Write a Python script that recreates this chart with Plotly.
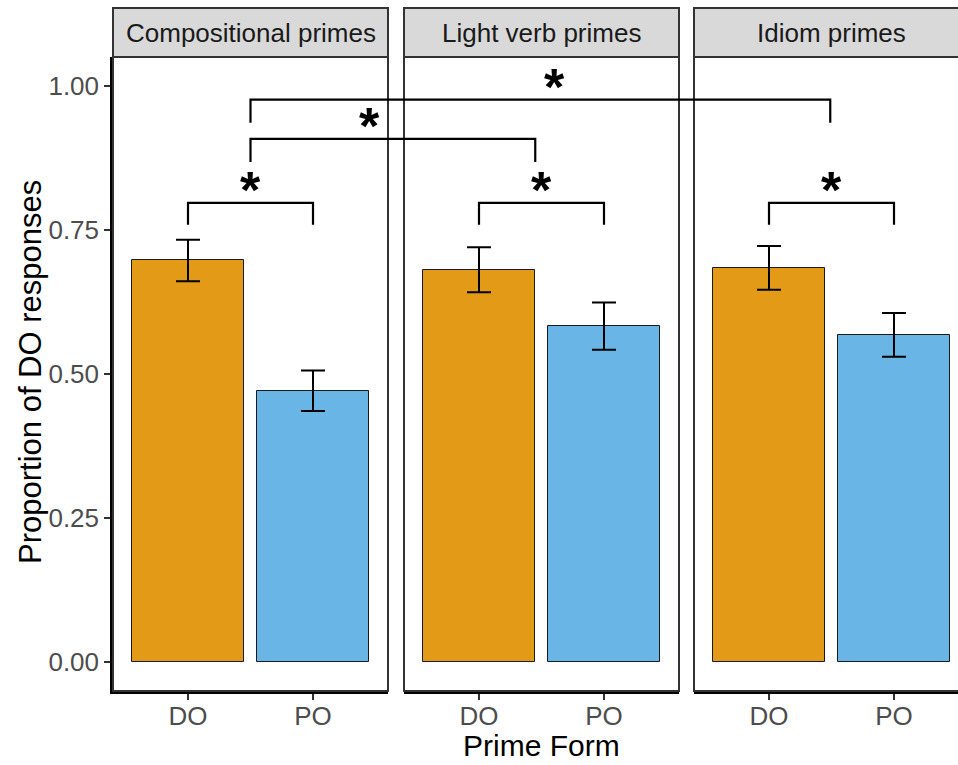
import plotly.graph_objects as go

# ---------------- data ----------------
panels = ["Compositional primes", "Light verb primes", "Idiom primes"]
categories = ["DO", "PO"]
do_vals = [0.697, 0.681, 0.684]
po_vals = [0.471, 0.583, 0.568]
do_err = [0.036, 0.039, 0.038]
po_err = [0.035, 0.041, 0.038]
y_ticks = [0.00, 0.25, 0.50, 0.75, 1.00]
y_ticklabels = ["0.00", "0.25", "0.50", "0.75", "1.00"]
# within-panel significance bracket (DO vs PO)
within_bracket = {"y": 0.797, "tick": 0.759}
# cross-panel brackets: (from panel, x), (to panel, x), y, tick bottom, star x (panel, x)
cross_brackets = [
    {"p0": 0, "x0": 0.5, "p1": 1, "x1": 0.45, "y": 0.908, "tick": 0.868, "sp": 0, "sx": 1.45},
    {"p0": 0, "x0": 0.5, "p1": 2, "x1": 0.49, "y": 0.976, "tick": 0.936, "sp": 1, "sx": 0.6},
]
star = "<b>*</b>"

# ---------------- layout geometry ----------------
W, H = 958, 765
ML, MR, MT, MB = 113, 0, 57, 74
PW = W - ML - MR
PH = H - MT - MB
panel_px = [(113, 388), (404, 679), (694, 969)]
px_per_unit = 125.0
yr = [-0.05, 1.05]
STAR_SIZE = 52
STAR_GAP = 20      # px from bracket line to star centre
STAR_GLYPH = 7     # px the glyph sits above the text-box middle

orange = "#E39A17"
blue = "#69B5E5"

fig = go.Figure()

xranges = []
domains = []
for i, (a, b) in enumerate(panel_px):
    d0 = (a - ML) / PW
    d1 = min((b - ML) / PW, 1.0)
    domains.append((d0, d1))
    right_px = min(b, W)
    xranges.append([-0.6, -0.6 + (right_px - a) / px_per_unit])


def paper_x(p, xv):
    a = panel_px[p][0]
    return (a + (xv - xranges[p][0]) * px_per_unit - ML) / PW


def paper_y(yv):
    return (yv - yr[0]) / (yr[1] - yr[0])


for i in range(3):
    xa = "x" if i == 0 else f"x{i+1}"
    ya = "y" if i == 0 else f"y{i+1}"
    fig.add_trace(go.Bar(
        x=[0, 1], y=[do_vals[i], po_vals[i]],
        width=0.9,
        marker=dict(color=[orange, blue], line=dict(color="#1a1a1a", width=1)),
        error_y=dict(type="data", array=[do_err[i], po_err[i]], color="black",
                     thickness=2, width=12),
        xaxis=xa, yaxis=ya, showlegend=False, hoverinfo="skip",
    ))

layout = dict(
    width=W, height=H,
    margin=dict(l=ML, r=MR, t=MT, b=MB, autoexpand=False),
    plot_bgcolor="white", paper_bgcolor="white",
    font=dict(family="Liberation Sans, Arial, sans-serif", color="#4D4D4D"),
    bargap=0,
)
for i in range(3):
    sfx = "" if i == 0 else str(i + 1)
    layout["xaxis" + sfx] = dict(
        domain=list(domains[i]), range=xranges[i], anchor="y" + sfx,
        tickmode="array", tickvals=[0, 1], ticktext=categories,
        showgrid=False, zeroline=False, showline=True, linecolor="black",
        linewidth=2.5, ticks="outside", ticklen=6, tickwidth=2, tickcolor="#333333",
        tickfont=dict(size=26, color="#4D4D4D"), fixedrange=True, automargin=False,
        ticklabelstandoff=-6,
    )
    layout["yaxis" + sfx] = dict(
        domain=[0, 1], range=yr, anchor="x" + sfx,
        tickmode="array", tickvals=y_ticks, ticktext=y_ticklabels,
        showticklabels=(i == 0), showgrid=False, zeroline=False,
        showline=(i == 0), linecolor="black", linewidth=2.5,
        ticks="outside" if i == 0 else "", ticklen=6, tickwidth=2, tickcolor="#333333",
        tickfont=dict(size=26, color="#4D4D4D"), fixedrange=True, automargin=False,
    )
fig.update_layout(**layout)

shapes = []
annotations = []
strip_top = 1 + (MT - 8) / PH
star_font = dict(size=STAR_SIZE, color="black", family="Liberation Sans")


def add_star(xp, yb):
    annotations.append(dict(text=star, xref="paper", yref="paper",
                            x=xp, y=yb, yshift=STAR_GAP - STAR_GLYPH,
                            showarrow=False, xanchor="center", yanchor="middle",
                            font=star_font))


for i in range(3):
    d0, d1 = domains[i]
    b_right = (panel_px[i][1] - ML) / PW
    shapes.append(dict(type="rect", xref="paper", yref="paper", x0=d0, x1=b_right,
                       y0=0, y1=1, line=dict(color="#333333", width=2), layer="above"))
    shapes.append(dict(type="rect", xref="paper", yref="paper", x0=d0, x1=b_right,
                       y0=1, y1=strip_top, fillcolor="#D9D9D9",
                       line=dict(color="#333333", width=2), layer="above"))
    annotations.append(dict(text=panels[i], xref="paper", yref="paper",
                            x=(d0 + b_right) / 2, y=(1 + strip_top) / 2,
                            showarrow=False, xanchor="center", yanchor="middle",
                            font=dict(size=26, color="#1A1A1A")))
    x0 = paper_x(i, 0)
    x1 = paper_x(i, 1)
    yb = paper_y(within_bracket["y"])
    yt = paper_y(within_bracket["tick"])
    shapes.append(dict(type="path", xref="paper", yref="paper",
                       path=f"M {x0},{yt} L {x0},{yb} L {x1},{yb} L {x1},{yt}",
                       line=dict(color="black", width=2.2)))
    add_star((x0 + x1) / 2, yb)

for cb in cross_brackets:
    x0 = paper_x(cb["p0"], cb["x0"])
    x1 = paper_x(cb["p1"], cb["x1"])
    yb = paper_y(cb["y"])
    yt = paper_y(cb["tick"])
    shapes.append(dict(type="path", xref="paper", yref="paper",
                       path=f"M {x0},{yt} L {x0},{yb} L {x1},{yb} L {x1},{yt}",
                       line=dict(color="black", width=2.2)))
    add_star(paper_x(cb["sp"], cb["sx"]), yb)

annotations.append(dict(text="Prime Form", xref="paper", yref="paper",
                        x=(541 - ML) / PW, y=-(746 - (MT + PH)) / PH,
                        showarrow=False, xanchor="center", yanchor="middle",
                        font=dict(size=30, color="black")))
annotations.append(dict(text="Proportion of DO responses", xref="paper", yref="paper",
                        x=-(ML - 30) / PW, y=(MT + PH - 372) / PH,
                        showarrow=False, xanchor="center", yanchor="middle", textangle=-90,
                        font=dict(size=31, color="black")))

fig.update_layout(shapes=shapes, annotations=annotations)
fig.write_html("out.html", config={"displayModeBar": False},
               post_script="document.body.style.margin='0';document.body.style.padding='0';")
